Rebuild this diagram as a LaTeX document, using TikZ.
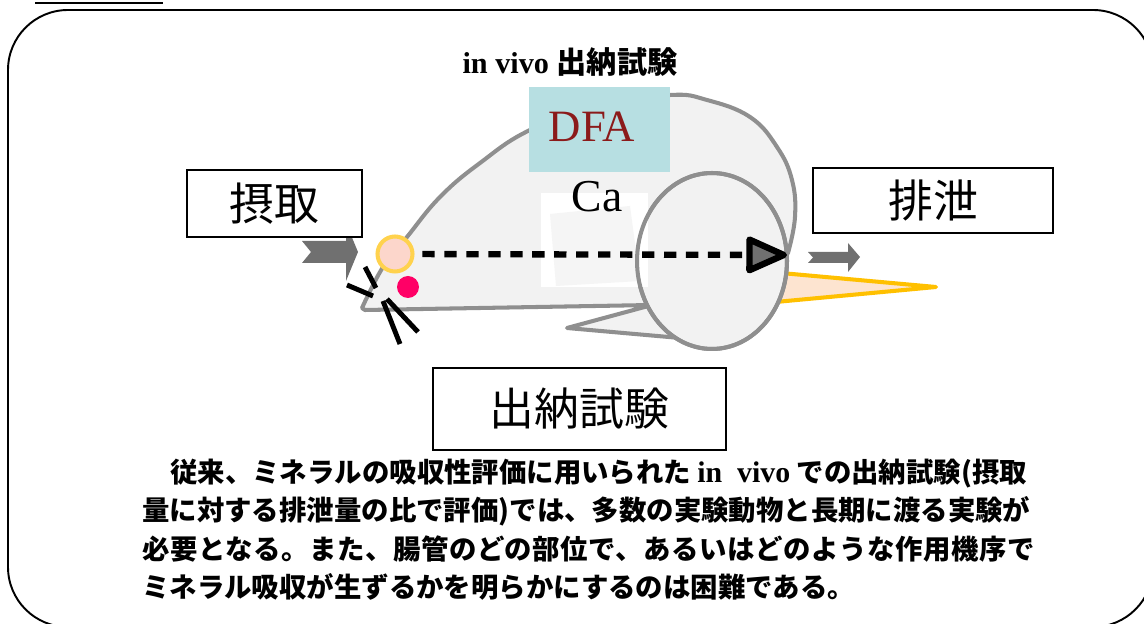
\documentclass[tikz,border=0pt]{standalone}
\usepackage{fontspec}
\setmainfont{Liberation Serif}
\newfontfamily\jpfont{Noto Sans CJK JP}
\usetikzlibrary{arrows.meta}

\definecolor{ratgray}{HTML}{F2F2F2}
\definecolor{ratline}{HTML}{8F8F8F}
\definecolor{dfacyan}{HTML}{B7DFE2}
\definecolor{dfared}{HTML}{8B1A1A}
\definecolor{flowgray}{HTML}{707070}
\definecolor{mouthfill}{HTML}{FCD6CB}
\definecolor{mouthline}{HTML}{FFD24D}
\definecolor{dotred}{HTML}{FF0066}
\definecolor{tailfill}{HTML}{FDE4D0}
\definecolor{tailline}{HTML}{FFC000}

\begin{document}
\begin{tikzpicture}[x=0.02cm,y=-0.02cm,
  rat/.style={fill=ratgray,draw=ratline,line width=2.3pt,line join=round},
  labelbox/.style={draw,line width=0.9pt,fill=white,inner sep=0pt,
    font=\jpfont\fontsize{25.5}{28}\selectfont},
  whisker/.style={line width=2.8pt},
  flow/.style={fill=flowgray},
  bodytext/.style={anchor=west,inner sep=0pt,
    font=\jpfont\bfseries\fontsize{15.6}{18}\selectfont}]
\useasboundingbox (0,0) rectangle (1144,624);

% outer frame and heading rule
\draw[line width=1.1pt,rounded corners=1.2cm] (8,10) rectangle (1153,627);
\draw[line width=1.2pt] (35,3) -- (163,3);

\node[font=\bfseries\fontsize{17.2}{20}\selectfont] (title) at (570,62)
  {in vivo {\jpfont 出納試験}};

% the rat
\filldraw[fill=tailfill,draw=tailline,line width=2.3pt,line join=round]
  (770,272) -- (936,287) -- (765,303) -- cycle;
\draw[rat] plot[smooth,tension=0.7] coordinates {(362,308) (383,267) (407,237)
  (440,197) (480,163) (530,130) (600,105) (670,95) (707,100) (750,117)
  (777,147) (792,180) (795,217) (788,253)}
  -- (720,300) -- (680,338) -- (567,328) -- (652,305) -- (365,310) -- cycle;
\draw[rat] (712,261) ellipse [x radius=1.5cm,y radius=1.76cm];

% gut picture
\fill[white] (541,193) rectangle (648,287);
\fill[black!4] (550,214) -- (630,206) -- (640,281) -- (556,286) -- cycle;
\draw[draw=ratline,line width=2.3pt] (712,261) ellipse [x radius=1.5cm,y radius=1.76cm];

\node[fill=dfacyan,minimum width=2.82cm,minimum height=1.7cm] (dfa) at (599.5,129.5) {};
\node[text=dfared,font=\fontsize{25.5}{28}\selectfont] (dfatext) at (592,127) {DFA};
\node[font=\fontsize{26}{28}\selectfont] (ca) at (597,197) {Ca};

% mouth and whiskers
\node[circle,fill=mouthfill,draw=mouthline,line width=2.3pt,minimum size=0.7cm,
  inner sep=0pt] (mouth) at (395,254) {};
\node[circle,fill=dotred,minimum size=0.44cm,inner sep=0pt] (nose) at (408,287) {};
\draw[whisker] (347,285) -- (373,296);
\draw[whisker] (365,267) -- (376,288);
\draw[whisker] (383,301) -- (400,344);
\draw[whisker] (387,299) -- (418,332);

% Ca route through the gut
\coordinate (anus) at (787,255);
\draw[line width=3.6pt,dash pattern=on 7pt off 5.5pt,shorten <=4.5pt,
  -{Triangle[round,length=26pt,width=22pt,fill=flowgray]}] (mouth) -- (anus);

% intake and excretion arrows
\fill[flow] (302,241) -- (346,241) -- (346,223) -- (358,252) -- (346,281)
  -- (346,263) -- (302,263) -- (311,252) -- cycle;
\fill[flow] (808,252) -- (848,252) -- (848,243) -- (860,257) -- (848,272)
  -- (848,263) -- (808,263) -- (813,257.5) -- cycle;

\node[labelbox,minimum width=3.5cm,minimum height=1.34cm] (intake) at (274.5,203.5) {摂取};
\node[labelbox,minimum width=4.8cm,minimum height=1.3cm] (excretion) at (933,200.5) {排泄};
\node[labelbox,minimum width=5.86cm,minimum height=1.64cm] (balance) at (579.5,409) {出納試験};

% explanation
\node[bodytext] (line1) at (170,474)
  {従来、ミネラルの吸収性評価に用いられた\ {\rmfamily\fontsize{17}{18}\selectfont in\ \ vivo}\ での出納試験(摂取};
\node[bodytext] (line2) at (142,511)
  {量に対する排泄量の比で評価)では、多数の実験動物と長期に渡る実験が};
\node[bodytext] (line3) at (142,549)
  {\addfontfeature{LetterSpace=2}必要となる。また、腸管のどの部位で、あるいはどのような作用機序で};
\node[bodytext] (line4) at (142,587)
  {ミネラル吸収が生ずるかを明らかにするのは困難である。};
\end{tikzpicture}
\end{document}
